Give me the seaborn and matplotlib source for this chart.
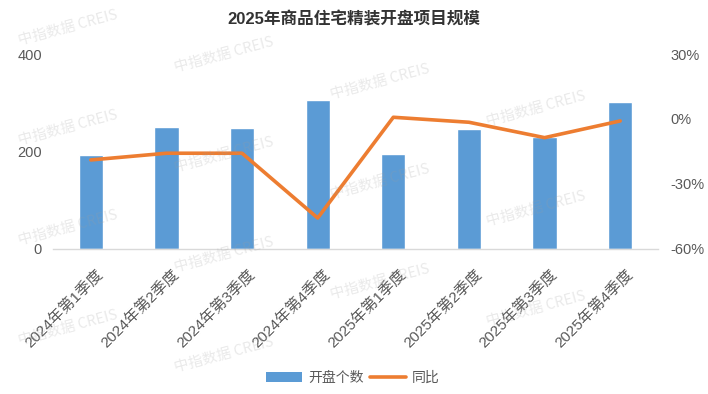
import numpy as np
import pandas as pd
import matplotlib
matplotlib.use("Agg")
import matplotlib.pyplot as plt
from matplotlib.patches import Patch
from matplotlib.lines import Line2D
from matplotlib.ticker import FixedLocator, FuncFormatter
from matplotlib.transforms import ScaledTranslation
import seaborn as sns

# ---- data ----
categories = ["2024年第1季度", "2024年第2季度", "2024年第3季度", "2024年第4季度",
              "2025年第1季度", "2025年第2季度", "2025年第3季度", "2025年第4季度"]
openings = [193, 251, 248, 306, 195, 246, 230, 302]
yoy = [-0.189, -0.158, -0.158, -0.457, 0.008, -0.015, -0.086, -0.009]
left_ticks = [0, 200, 400]
right_ticks = [-0.6, -0.3, 0.0, 0.3]
title = "2025年商品住宅精装开盘项目规模"
bar_label = "开盘个数"
line_label = "同比"
watermark = "中指数据 CREIS"

BLUE = "#5B9BD5"
ORANGE = "#ED7D31"
GRAY = "#595959"

sns.set_style("white")
plt.rcParams["font.family"] = ["Liberation Sans", "Noto Sans CJK SC", "DejaVu Sans"]

df = pd.DataFrame({"季度": categories, "开盘个数": openings,
                   "pos": np.arange(len(categories)), "同比": yoy})

W, H = 708, 394
fig = plt.figure(figsize=(W / 100, H / 100), dpi=100)
ax = fig.add_axes([53 / W, 1 - 249 / H, (658 - 53) / W, (249 - 54) / H])

sns.barplot(data=df, x="季度", y="开盘个数", color=BLUE, saturation=1,
            width=0.32, ax=ax, zorder=2)
ax.set_ylim(0, 400)
ax.set_xlim(-0.5, len(categories) - 0.5)
ax.yaxis.set_major_locator(FixedLocator(left_ticks))
ax.set_xlabel("")
ax.set_ylabel("")

ax2 = ax.twinx()
sns.lineplot(data=df, x="pos", y="同比", color=ORANGE, linewidth=2.6,
             ax=ax2, zorder=3)
ax2.set_ylim(-0.6, 0.3)
ax2.yaxis.set_major_locator(FixedLocator(right_ticks))
ax2.yaxis.set_major_formatter(FuncFormatter(lambda v, p: f"{v*100:.0f}%"))
ax2.set_xlim(-0.5, len(categories) - 0.5)
ax2.set_xlabel("")
ax2.set_ylabel("")

for a in (ax, ax2):
    for s in a.spines.values():
        s.set_visible(False)
    a.grid(False)
ax.spines["bottom"].set_visible(True)
ax.spines["bottom"].set_color("#D9D9D9")
ax.spines["bottom"].set_linewidth(1.0)

ax.tick_params(axis="y", length=0, pad=8, labelsize=10.5, labelcolor=GRAY)
ax2.tick_params(axis="y", length=0, pad=9, labelsize=10.5, labelcolor=GRAY)
ax.tick_params(axis="x", length=0, pad=13, labelsize=11, labelcolor=GRAY)
ax.set_xticks(range(len(categories)))
ax.set_xticklabels(categories, rotation=45, ha="right", rotation_mode="anchor")
for lab in ax.get_xticklabels():
    lab.set_transform(lab.get_transform() + ScaledTranslation(5 / 100, 0, fig.dpi_scale_trans))

fig.text(354 / W, 1 - 20 / H, title, ha="center", va="center",
         fontsize=12, fontweight="bold", color="#333333",
         family=["Liberation Sans", "Noto Sans CJK SC"])

handles = [Patch(facecolor=BLUE, edgecolor="none", label=bar_label),
           Line2D([0], [0], color=ORANGE, lw=2.6, label=line_label)]
leg = fig.legend(handles=handles, loc="center", bbox_to_anchor=(353 / W, 1 - 378 / H),
                 ncol=2, frameon=False, handlelength=2.6,
                 handleheight=0.8, handletextpad=0.4, columnspacing=0.5,
                 prop={"family": ["Noto Sans CJK SC"], "size": 10})
for t in leg.get_texts():
    t.set_color(GRAY)

# faint watermarks (only those fully inside the picture)
marks = []
for i in range(0, 5):
    for j in range(-1, 4):
        x = 68 + 156 * i
        y = 28 + 27 * i + 100 * j
        if -10 < y < H + 10:
            marks.append(fig.text(x / W, 1 - y / H, watermark, ha="center", va="center",
                                  rotation=15, rotation_mode="anchor", fontsize=10.5,
                                  color="#9E9E9E", alpha=0.22, zorder=10,
                                  family=["Noto Sans CJK SC"]))
fig.canvas.draw()
r = fig.canvas.get_renderer()
for m in marks:
    bb = m.get_window_extent(r)
    if bb.x0 < 1 or bb.y0 < 1 or bb.x1 > W - 1 or bb.y1 > H - 1:
        m.remove()

fig.savefig("out.png", dpi=100)
